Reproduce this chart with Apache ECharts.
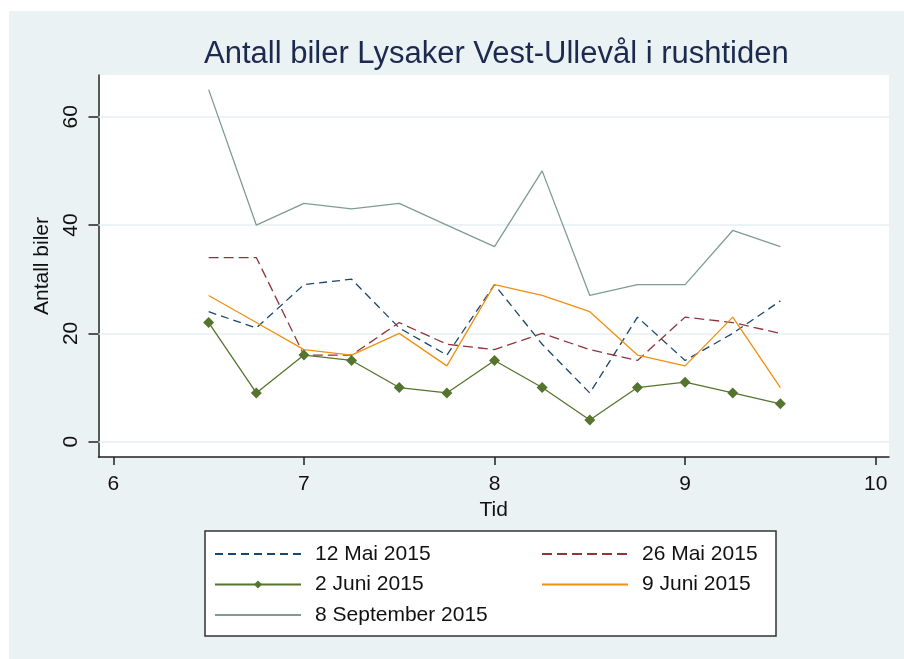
<!DOCTYPE html>
<html>
<head>
<meta charset="utf-8">
<script src="https://cdn.jsdelivr.net/npm/echarts@6/dist/echarts.min.js"></script>
<style>
html, body { margin: 0; padding: 0; background: #fff; }
#chart { width: 904px; height: 659px; }
</style>
</head>
<body>
<div id="chart"></div>
<script>
// tidspunkt (klokkeslett) og antall biler per dag
var tider = [6.5, 6.75, 7, 7.25, 7.5, 7.75, 8, 8.25, 8.5, 8.75, 9, 9.25, 9.5];
var mai12 = [24, 21, 29, 30, 21, 16, 29, 18, 9, 23, 15, 20, 26];
var mai26 = [34, 34, 16, 16, 22, 18, 17, 20, 17, 15, 23, 22, 20];
var juni2 = [22, 9, 16, 15, 10, 9, 15, 10, 4, 10, 11, 9, 7];
var juni9 = [27, 22, 17, 16, 20, 14, 29, 27, 24, 16, 14, 23, 10];
var sep8 = [65, 40, 44, 43, 44, 40, 36, 50, 27, 29, 29, 39, 36];

var xTicks = [6, 7, 8, 9, 10];
var yTicks = [0, 20, 40, 60];
var navn = ['12 Mai 2015', '26 Mai 2015', '2 Juni 2015', '9 Juni 2015', '8 September 2015'];

var font = 'Liberation Sans, Arial, sans-serif';

function par(verdier) {
    return verdier.map(function(v, i) { return [tider[i], v]; });
}

var myChart = echarts.init(document.getElementById('chart'));

var option = {
    animation: false,
    backgroundColor: '#eaf2f3',
    title: {
        text: 'Antall biler Lysaker Vest-Ullevål i rushtiden',
        left: 199,
        top: 34,
        textStyle: { fontFamily: font, fontSize: 31, fontWeight: 'normal', color: '#1c2a50' }
    },
    grid: {
        left: 98.5, right: 15, top: 75, bottom: 202,
        show: true, backgroundColor: '#fff', borderWidth: 0
    },
    xAxis: {
        type: 'value',
        min: 5.922, max: 10.07,
        name: 'Tid', nameLocation: 'middle', nameGap: 38,
        nameTextStyle: { fontFamily: font, fontSize: 21, color: '#111' },
        axisLine: { onZero: false, lineStyle: { color: '#222', width: 1.5 } },
        axisTick: { customValues: xTicks, length: 8, lineStyle: { color: '#222', width: 1.5 } },
        axisLabel: { customValues: xTicks, margin: 17, fontFamily: font, fontSize: 21, color: '#111' },
        splitLine: { show: false }
    },
    yAxis: {
        type: 'value',
        min: -2.82, max: 67.7,
        name: 'Antall biler', nameLocation: 'middle', nameGap: 32, nameRotate: 90,
        nameTextStyle: { fontFamily: font, fontSize: 21, color: '#111' },
        axisLine: { show: true, onZero: false, lineStyle: { color: '#222', width: 1.5 } },
        axisTick: { show: true, customValues: yTicks, length: 10, lineStyle: { color: '#222', width: 1.5 } },
        axisLabel: { customValues: yTicks, rotate: 90, margin: 17, fontFamily: font, fontSize: 21, color: '#111' },
        splitLine: { show: false }
    },
    legend: [{
        data: [
            { name: navn[0], itemStyle: { opacity: 0 } },
            { name: navn[2] },
            { name: navn[4], itemStyle: { opacity: 0 } }
        ],
        orient: 'vertical', left: 214, top: 543, padding: 0,
        itemWidth: 86, itemHeight: 10, itemGap: 8.5,
        textStyle: { fontFamily: font, fontSize: 21, lineHeight: 22, color: '#111', padding: [0, 0, 0, 9] }
    }, {
        data: [
            { name: navn[1], itemStyle: { opacity: 0 } },
            { name: navn[3], itemStyle: { opacity: 0 } }
        ],
        orient: 'vertical', left: 541, top: 543, padding: 0,
        itemWidth: 86, itemHeight: 10, itemGap: 8.5,
        textStyle: { fontFamily: font, fontSize: 21, lineHeight: 22, color: '#111', padding: [0, 0, 0, 9] }
    }],
    graphic: [
        { type: 'rect', shape: { x: 0, y: 0, width: 904, height: 11 }, style: { fill: '#fff' }, silent: true },
        { type: 'rect', shape: { x: 0, y: 0, width: 9, height: 659 }, style: { fill: '#fff' }, silent: true },
        { type: 'rect', z: 3, shape: { x: 205, y: 531, width: 571, height: 105 },
          style: { fill: '#fff', stroke: '#333', lineWidth: 1.5 }, silent: true }
    ],
    series: [{
        name: navn[0], type: 'line', data: par(mai12), symbol: 'none',
        lineStyle: { color: '#1a476f', width: 1.3, type: [8, 5] },
        itemStyle: { color: '#1a476f' },
        markLine: {
            silent: true, symbol: 'none', z: 1,
            label: { show: false },
            lineStyle: { color: '#e6eff1', width: 1.5, type: 'solid' },
            data: yTicks.map(function(v) { return { yAxis: v }; })
        }
    }, {
        name: navn[1], type: 'line', data: par(mai26), symbol: 'none',
        lineStyle: { color: '#90353b', width: 1.3, type: [10, 5] },
        itemStyle: { color: '#90353b' }
    }, {
        name: navn[2], type: 'line', data: par(juni2), symbol: 'diamond', symbolSize: 11,
        lineStyle: { color: '#55752f', width: 1.3 },
        itemStyle: { color: '#55752f' }
    }, {
        name: navn[3], type: 'line', data: par(juni9), symbol: 'none',
        lineStyle: { color: '#f0900f', width: 1.3 },
        itemStyle: { color: '#f0900f' }
    }, {
        name: navn[4], type: 'line', data: par(sep8), symbol: 'none',
        lineStyle: { color: '#7f9c92', width: 1.3 },
        itemStyle: { color: '#7f9c92' }
    }]
};

myChart.setOption(option);
</script>
</body>
</html>
